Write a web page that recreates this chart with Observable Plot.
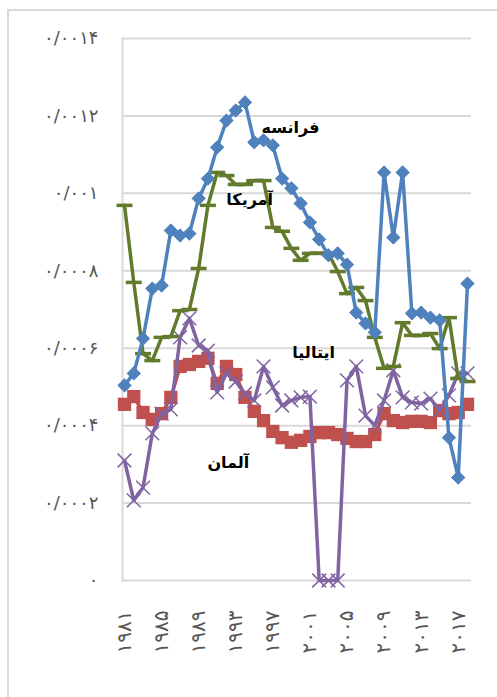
<!DOCTYPE html>
<html><head><meta charset="utf-8">
<script src="https://cdn.jsdelivr.net/npm/d3@7"></script>
<script src="https://cdn.jsdelivr.net/npm/@observablehq/plot@0.6"></script>
<style>
body{margin:0;background:#fff;overflow:hidden}
#wrap{position:relative;width:497px;height:697px;overflow:hidden}
#border{position:absolute;left:7px;top:9px;width:500px;height:720px;border:2px solid #d9d9d9;box-sizing:border-box}
#chart{position:absolute;left:0;top:0}
</style></head><body>
<div id="wrap"><div id="border"></div><div id="chart"></div></div>
<script>
// categories (years)
const years = [1981,1982,1983,1984,1985,1986,1987,1988,1989,1990,1991,1992,1993,1994,1995,1996,1997,1998,1999,2000,
  2001,2002,2003,2004,2005,2006,2007,2008,2009,2010,2011,2012,2013,2014,2015,2016,2017,2018];
// tick labels
const xTicks = [1981,1985,1989,1993,1997,2001,2005,2009,2013,2017];
const yTicks = [0,0.0002,0.0004,0.0006,0.0008,0.001,0.0012,0.0014];
// series values
const france = [0.000504,0.000535,0.000625,0.000754,0.000762,0.000904,0.000891,0.000896,0.000987,0.001038,
  0.001119,0.001188,0.001214,0.001235,0.001132,0.001137,0.001124,0.001038,0.001013,0.000974,
  0.000925,0.000881,0.000840,0.000845,0.000816,0.000692,0.000664,0.000641,0.001054,0.000886,
  0.001054,0.000690,0.000692,0.000679,0.000672,0.000369,0.000266,0.000767];
const usa = [0.000969,0.000770,0.000586,0.000568,0.000628,0.000630,0.000697,0.000700,0.000806,0.000969,
  0.001054,0.001046,0.001023,0.001023,0.001033,0.001033,0.000912,0.000902,0.000858,0.000827,
  0.000845,0.000845,0.000845,0.000798,0.000741,0.000757,0.000723,0.000628,0.000548,0.000553,
  0.000666,0.000633,0.000633,0.000638,0.000599,0.000679,0.000522,0.000514];
const italy = [0.000455,0.000475,0.000434,0.000416,0.000431,0.000473,0.000553,0.000558,0.000566,0.000574,
  0.000509,0.000553,0.000532,0.000473,0.000437,0.000413,0.000385,0.000369,0.000357,0.000362,
  0.000372,0.000382,0.000382,0.000377,0.000367,0.000359,0.000359,0.000377,0.000431,0.000413,
  0.000408,0.000411,0.000411,0.000408,0.000439,0.000431,0.000434,0.000455];
const germany = [0.000310,0.000207,0.000240,0.000380,0.000431,0.000442,0.000628,0.000677,0.000607,0.000594,
  0.000486,0.000535,0.000514,0.000483,0.000465,0.000553,0.000499,0.000452,0.000465,0.000473,
  0.000475,0,0,0,0.000517,0.000553,0.000426,0.000400,0.000465,0.000543,
  0.000473,0.000460,0.000457,0.000470,0.000439,0.000478,0.000535,0.000535];
// series names and in-chart label anchors (data space)
const names = ["فرانسه","آمریکا","ایتالیا","آلمان"];
const labelYears = [1998.9, 1994.5, 2001.4, 1992.2];
const labelValues = [0.001168, 0.000982, 0.000589, 0.000305];

const fa = s => String(s).replace(/[0-9]/g, d => "۰۱۲۳۴۵۶۷۸۹"[d]).replace(".", "/");
const yFmt = v => fa(+v.toFixed(4));

const dash = {draw(ctx, size){ const w = Math.sqrt(size) * 0.9; ctx.moveTo(-w, 0); ctx.lineTo(w, 0); }};

const series = [
  {name: names[2], values: italy, color: "#C0504D", symbol: "square", r: 7.5, fill: true, sw: 0},
  {name: names[3], values: germany, color: "#8064A2", symbol: "times", r: 6.3, fill: false, sw: 1.5},
  {name: names[1], values: usa, color: "#627a2c", symbol: dash, r: 5, fill: false, sw: 3.5},
  {name: names[0], values: france, color: "#4F81BD", symbol: "diamond2", r: 6, fill: true, sw: 1}
];

const marks = [
  Plot.ruleY(yTicks, {stroke: "#d9d9d9", strokeWidth: 2}),
  Plot.frame({anchor: "left", stroke: "#d9d9d9", strokeWidth: 2}),
  Plot.axisY({ticks: yTicks, tickFormat: yFmt, tickSize: 0, tickPadding: 24, fontSize: 18, label: null, fill: "#555"}),
  Plot.axisX({ticks: xTicks, tickFormat: d => fa(d), tickRotate: -90, tickSize: 0, tickPadding: 30, fontSize: 20, label: null, fill: "#555"})
];
for (const s of series) {
  const data = years.map((y, i) => ({year: y, value: s.values[i]}));
  marks.push(Plot.line(data, {x: "year", y: "value", stroke: s.color, strokeWidth: 3.5, strokeLinejoin: "round", strokeLinecap: "round"}));
  marks.push(Plot.dot(data, {x: "year", y: "value", symbol: () => s.symbol, r: s.r,
    fill: s.fill ? s.color : "none", stroke: s.sw ? s.color : "none", strokeWidth: s.sw}));
}
marks.push(Plot.text(names.map((n, i) => ({name: n, year: labelYears[i], value: labelValues[i]})),
  {x: "year", y: "value", text: "name", fill: "#000", fontSize: 16, fontWeight: "bold"}));

const chart = Plot.plot({
  width: 497, height: 697,
  marginLeft: 122, marginRight: 26, marginTop: 38, marginBottom: 117,
  x: {domain: [1981, 2018], insetLeft: 2, insetRight: 4},
  y: {domain: [0, 0.0014]},
  style: {fontFamily: "DejaVu Sans", color: "#595959", background: "transparent"},
  marks
});
document.getElementById("chart").append(chart);
</script>
</body></html>
